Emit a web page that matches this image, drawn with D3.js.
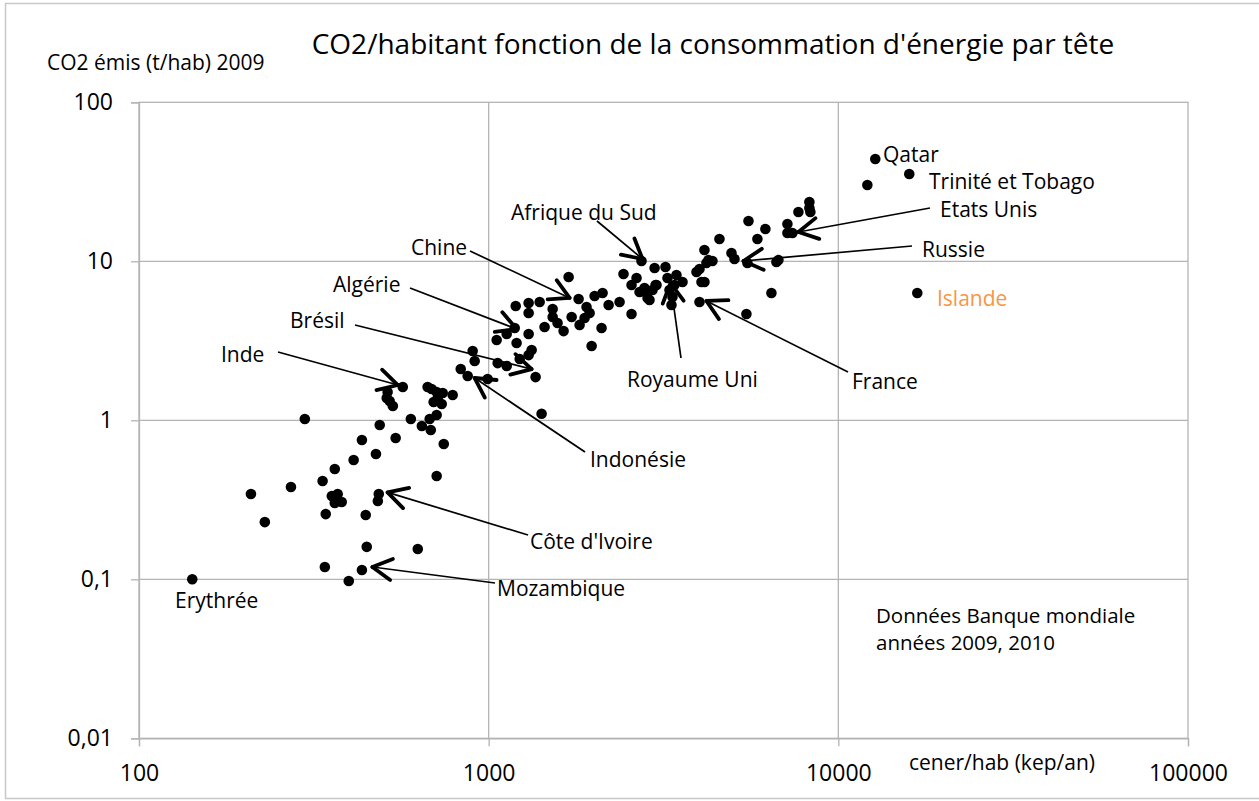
<!DOCTYPE html>
<html><head><meta charset="utf-8">
<script src="https://cdn.jsdelivr.net/npm/d3@7"></script>
<style>
body{margin:0;background:#fff;}
text{font-family:"Open Sans",sans-serif;fill:#000;}
</style></head><body>
<svg id="c" width="1259" height="801"></svg>
<script>
// energy consumption per head (kep/an)
const energy = [142,209,229,272,298,335,363,356,370,380,363,342,411,434,476,488,542,445,485,482,448,627,340,434,398,710,744,599,644,678,710,683,
568,514,511,521,532,669,687,710,739,789,696,734,715,832,871,900,912,993,1054,1061,1126,1126,1187,1202,1195,1301,1301,1399,1301,1327,1301,1227,1362,1417,
1445,1524,1524,1574,1638,1693,1727,1808,1820,1905,1944,1881,2009,2117,2203,2103,1970,2368,2430,2562,2648,2562,2736,2701,2828,2847,2942,3001,2982,2790,2884,
3204,3020,3247,3444,3584,3399,3289,3355,3333,3930,4008,4141,4252,4196,4365,4061,4141,4008,4571,4948,5047,5534,6186,5869,5495,6652,6740,6436,5459,
7151,7151,7390,7688,8264,8318,8264,12106,12755,15954,16818];
// CO2 emissions per head (t/hab)
const co2 = [0.100,0.344,0.229,0.381,1.02,0.415,0.494,0.334,0.344,0.306,0.302,0.257,0.563,0.752,0.614,0.934,0.774,0.254,0.344,0.311,0.160,0.155,0.1195,0.1144,0.0976,0.446,0.709,1.02,0.921,1.02,1.08,0.869,
1.62,1.507,1.381,1.322,1.23,1.62,1.573,1.507,1.485,1.443,1.304,1.266,1.381,2.10,1.90,2.73,2.36,1.82,3.20,2.29,3.49,2.195,3.81,3.06,5.24,5.47,4.73,5.55,3.49,2.77,2.57,2.43,1.87,1.10,
3.86,5.01,4.46,4.09,3.64,7.97,4.46,5.79,3.98,5.16,4.73,4.40,6.05,6.32,5.31,3.81,2.93,5.55,8.32,4.66,7.85,7.10,10.04,6.41,6.32,5.88,6.60,7.10,9.08,6.79,5.71,
9.21,7.10,7.85,8.20,7.41,7.10,6.60,5.97,5.31,8.56,8.95,11.78,10.19,9.76,10.04,7.41,7.41,5.55,13.81,11.28,10.34,17.93,15.96,13.81,9.76,9.90,10.19,6.32,4.66,
17.17,15.07,15.07,20.42,23.60,20.42,21.63,30.2,44.0,35.4,6.32];

const xTicks = [100,1000,10000,100000];
const yTicks = [0.01,0.1,1,10,100];
const yTickLabels = ["0,01","0,1","1","10","100"];

// arrowed annotations: label, target (energy, co2)
const arrowLabels = ["Inde","Brésil","Algérie","Chine","Afrique du Sud","Royaume Uni","France","Côte d'Ivoire","Mozambique","Indonésie","Russie","Etats Unis"];
const arrowEnergy = [550,1327,1202,1704,2754,3311,4196,514,465,912,5355,7688];
const arrowCo2 = [1.667,2.10,3.75,5.88,10.34,7.30,5.63,0.352,0.1195,1.845,10.04,15.29];
// layout: label text position and arrow tail (pixels)
const arrowLayout = [
 {tx:221,ty:362,sx:278,sy:352},
 {tx:290,ty:328,sx:355,sy:325},
 {tx:333,ty:292,sx:410,sy:288},
 {tx:411,ty:255,sx:470,sy:251},
 {tx:511,ty:220,sx:597,sy:221},
 {tx:627,ty:387,sx:681,sy:358},
 {tx:852,ty:389,sx:848,sy:372},
 {tx:530,ty:549,sx:528,sy:535},
 {tx:497,ty:596,sx:495,sy:583},
 {tx:590,ty:467,sx:585,sy:452},
 {tx:922,ty:257,sx:912,sy:246},
 {tx:940,ty:217,sx:930,sy:208}
];
const plainLabels = ["Qatar","Trinité et Tobago","Islande","Erythrée"];
const plainLayout = [{tx:883,ty:162},{tx:929,ty:189},{tx:937,ty:306,c:"#f79646"},{tx:175,ty:608}];

const svg = d3.select("#c");
const L=139,R=1188,T=102.3,B=738.3;
const x = d3.scaleLog().domain([100,100000]).range([L,R]);
const y = d3.scaleLog().domain([0.01,100]).range([B,T]);

svg.append("rect").attr("x",5.5).attr("y",3.5).attr("width",1262).attr("height",795)
  .attr("fill","none").attr("stroke","#c8c8c8").attr("stroke-width",1.5);

const grid="#b4b4b4";
svg.append("g").selectAll("line").data(xTicks.slice(1,-1)).join("line")
  .attr("x1",d=>x(d)).attr("x2",d=>x(d)).attr("y1",T).attr("y2",B).attr("stroke",grid).attr("stroke-width",1.3);
svg.append("g").selectAll("line").data(yTicks.slice(1,-1)).join("line")
  .attr("y1",d=>y(d)).attr("y2",d=>y(d)).attr("x1",L).attr("x2",R).attr("stroke",grid).attr("stroke-width",1.3);
svg.append("rect").attr("x",L).attr("y",T).attr("width",R-L).attr("height",B-T)
  .attr("fill","none").attr("stroke",grid).attr("stroke-width",1.3);

const xAxis = d3.axisBottom(x).tickValues(xTicks).tickFormat(d=>String(d)).tickSize(8).tickPadding(18);
const gx = svg.append("g").attr("transform",`translate(0,${B})`).call(xAxis);
const yAxis = d3.axisLeft(y).tickValues(yTicks).tickFormat((d,i)=>yTickLabels[i]).tickSize(8).tickPadding(18);
const gy = svg.append("g").attr("transform",`translate(${L},0)`).call(yAxis);
[gx,gy].forEach(g=>{
  g.select(".domain").attr("stroke",grid).attr("stroke-width",1.3);
  g.selectAll(".tick line").attr("stroke",grid).attr("stroke-width",1.3);
  g.selectAll(".tick text").style("font-size","23px").style("font-family","'Open Sans',sans-serif").attr("fill","#000");
});

svg.append("g").selectAll("circle").data(energy.map((e,i)=>[e,co2[i]])).join("circle")
  .attr("cx",d=>x(d[0])).attr("cy",d=>y(d[1])).attr("r",5.3).attr("fill","#000");

const LF="21px";
const ag = svg.append("g");
arrowLabels.forEach((lab,i)=>{
  const lay=arrowLayout[i];
  const px=x(arrowEnergy[i]), py=y(arrowCo2[i]);
  ag.append("line").attr("x1",lay.sx).attr("y1",lay.sy).attr("x2",px).attr("y2",py)
    .attr("stroke","#000").attr("stroke-width",1.7);
  const ang=Math.atan2(lay.sy-py,lay.sx-px);
  const len=22, spread=0.5;
  [ang+spread,ang-spread].forEach(a=>{
    ag.append("line").attr("x1",px).attr("y1",py)
      .attr("x2",px+len*Math.cos(a)).attr("y2",py+len*Math.sin(a))
      .attr("stroke","#000").attr("stroke-width",3.8).attr("stroke-linecap","round");
  });
  ag.append("text").attr("x",lay.tx).attr("y",lay.ty).text(lab).style("font-size",LF);
});
plainLabels.forEach((lab,i)=>{
  const lay=plainLayout[i];
  svg.append("text").attr("x",lay.tx).attr("y",lay.ty).text(lab).style("font-size",LF)
    .style("fill",lay.c||"#000");
});

svg.append("text").attr("x",713).attr("y",54).attr("text-anchor","middle").style("font-size","28px")
  .text("CO2/habitant fonction de la consommation d'énergie par tête");
svg.append("text").attr("x",47).attr("y",70).style("font-size","21px").text("CO2 émis (t/hab) 2009");
svg.append("text").attr("x",909).attr("y",770).style("font-size","21px").text("cener/hab (kep/an)");
svg.append("text").attr("x",876).attr("y",623).style("font-size","20.5px").text("Données Banque mondiale");
svg.append("text").attr("x",876).attr("y",650).style("font-size","20.5px").text("années 2009, 2010");
</script></body></html>
